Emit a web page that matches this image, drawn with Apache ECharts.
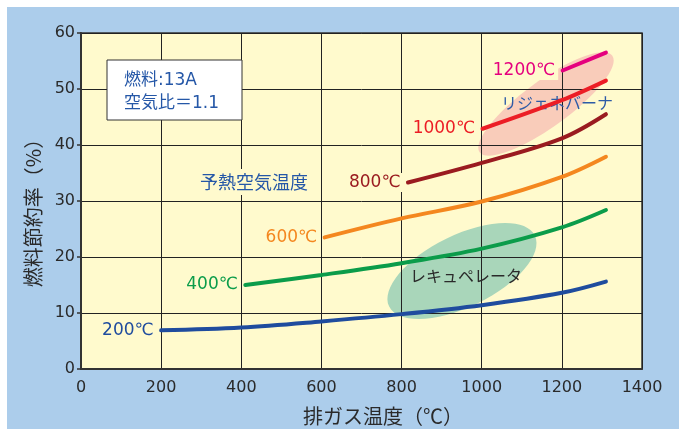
<!DOCTYPE html>
<html><head><meta charset="utf-8">
<script src="https://cdn.jsdelivr.net/npm/echarts@6/dist/echarts.min.js"></script>
<style>html,body{margin:0;padding:0;background:#fff}#c{width:679px;height:429px}</style>
</head><body><div id="c"></div>
<script>
// Data (exhaust gas temperature °C -> fuel saving rate %)
const xTicks = [0, 200, 400, 600, 800, 1000, 1200, 1400];
const yTicks = [0, 10, 20, 30, 40, 50, 60];
const seriesNames = ['200℃', '400℃', '600℃', '800℃', '1000℃', '1200℃'];
const x200 = [200, 400, 600, 800, 1000, 1200, 1310];
const y200 = [6.9, 7.4, 8.5, 9.8, 11.4, 13.6, 15.6];
const x400 = [410, 600, 800, 1000, 1200, 1310];
const y400 = [15.0, 16.8, 18.9, 21.5, 25.3, 28.4];
const x600 = [608, 800, 1000, 1200, 1310];
const y600 = [23.5, 26.9, 29.9, 34.3, 37.9];
const x800 = [816, 1000, 1200, 1310];
const y800 = [33.3, 36.8, 41.2, 45.5];
const x1000 = [1002, 1200, 1310];
const y1000 = [42.9, 48.0, 51.5];
const x1200 = [1202, 1310];
const y1200 = [53.3, 56.5];

const colors = ['#1f4c9e', '#0b9c4a', '#f4871f', '#9a1b20', '#ec1d25', '#e5007e'];
const xs = [x200, x400, x600, x800, x1000, x1200];
const ys = [y200, y400, y600, y800, y1000, y1200];
const PLOT_BG = '#fffacd';
const FONT = "'DejaVu Sans','Noto Sans CJK JP',sans-serif";
const JFONT = "'Noto Sans CJK JP',sans-serif";

const series = seriesNames.map((name, i) => ({
  type: 'line', name: name, smooth: 0.35, z: 5,
  symbol: 'circle', symbolSize: 1, showSymbol: true, showAllSymbol: true,
  itemStyle: { color: 'rgba(0,0,0,0)', borderWidth: 0 },
  lineStyle: { color: colors[i], width: 4, cap: 'round' },
  label: { show: false },
  labelLayout: { hideOverlap: false },
  data: xs[i].map((x, k) => k === 0 ? {
    value: [x, ys[i][k]],
    label: {
      show: true, position: 'left', distance: 4, formatter: name,
      color: colors[i], fontSize: 17, fontFamily: FONT,
      backgroundColor: PLOT_BG, padding: [2, 3, 0, 2]
    }
  } : [x, ys[i][k]])
}));

const chart = echarts.init(document.getElementById('c'));
chart.setOption({
  backgroundColor: '#ffffff',
  animation: false,
  grid: { left: 81, right: 37, top: 33, bottom: 60, show: false },
  xAxis: {
    type: 'value', min: xTicks[0], max: xTicks[xTicks.length - 1], interval: 200,
    axisLine: { show: true, onZero: false, lineStyle: { color: '#333', width: 2 } },
    axisTick: { show: false },
    splitLine: { show: true, lineStyle: { color: '#222', width: 1 } },
    axisLabel: { color: '#2a2a2a', fontSize: 16, fontFamily: FONT, margin: 11, formatter: v => String(v) }
  },
  yAxis: {
    type: 'value', min: yTicks[0], max: yTicks[yTicks.length - 1], interval: 10,
    axisLine: { show: true, lineStyle: { color: '#333', width: 2 } },
    axisTick: { show: true, length: 4, lineStyle: { color: '#333', width: 1.5 } },
    splitLine: { show: true, lineStyle: { color: '#222', width: 1 } },
    axisLabel: { color: '#2a2a2a', fontSize: 16, fontFamily: FONT, margin: 6, formatter: v => String(v) }
  },
  graphic: [
    { type: 'rect', z: -30, shape: { x: 7, y: 7, width: 672, height: 422 }, style: { fill: '#accdeb' } },
    { type: 'rect', z: -20, shape: { x: 81, y: 33, width: 561, height: 336 }, style: { fill: PLOT_BG, stroke: '#333', lineWidth: 1.5 } },
    { type: 'ellipse', z: -10, x: 546, y: 104, rotation: 36 * Math.PI / 180,
      shape: { cx: 0, cy: 0, rx: 82, ry: 23 }, style: { fill: '#f9ccba' } },
    { type: 'ellipse', z: -10, x: 462, y: 271, rotation: 26 * Math.PI / 180,
      shape: { cx: 0, cy: 0, rx: 81, ry: 36 }, style: { fill: '#a9d6ba' } },
    { type: 'rect', z: 10, shape: { x: 107, y: 60, width: 135, height: 60 }, style: { fill: '#ffffff', stroke: '#333', lineWidth: 1 } },
    { type: 'text', z: 11, x: 124, y: 81, style: { text: '燃料:13A', fill: '#2557a7', font: '17px ' + FONT, textVerticalAlign: 'middle' } },
    { type: 'text', z: 11, x: 124, y: 104, style: { text: '空気比＝1.1', fill: '#2557a7', font: '17px ' + FONT, textVerticalAlign: 'middle' } },
    { type: 'text', z: 11, x: 254, y: 182, style: { text: '予熱空気温度', fill: '#2557a7', font: '18px ' + JFONT, textAlign: 'center', textVerticalAlign: 'middle', backgroundColor: PLOT_BG, padding: [4, 6] } },
    { type: 'text', z: 3, x: 557, y: 103, style: { text: 'リジェネバーナ', fill: '#2d5ba6', font: '16px ' + JFONT, textAlign: 'center', textVerticalAlign: 'middle' } },
    { type: 'text', z: 3, x: 466, y: 276, style: { text: 'レキュペレータ', fill: '#2a2a2a', font: '16px ' + JFONT, textAlign: 'center', textVerticalAlign: 'middle' } },
    { type: 'text', z: 11, x: 383, y: 416, style: { text: '排ガス温度（℃）', fill: '#2a2a2a', font: '20px ' + JFONT, textAlign: 'center', textVerticalAlign: 'middle' } },
    { type: 'text', z: 11, x: 33, y: 208, rotation: Math.PI / 2, style: { text: '燃料節約率（%）', fill: '#2a2a2a', font: '20px ' + JFONT, textAlign: 'center', textVerticalAlign: 'middle' } }
  ],
  series: series
});
</script></body></html>
